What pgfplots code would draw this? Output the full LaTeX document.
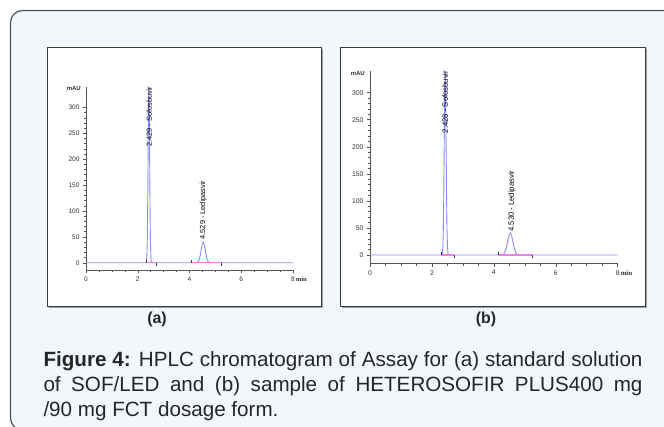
\documentclass[border=0pt]{standalone}
\usepackage{fontspec}
\setmainfont{Liberation Sans}
\setsansfont{Liberation Sans}
\newfontfamily\serif{Liberation Serif}
\usepackage{pgfplots}
\pgfplotsset{compat=1.18}
\definecolor{bgblue}{HTML}{F2F7FB}
\definecolor{framegray}{HTML}{505050}
\definecolor{panelborder}{HTML}{3A3A3A}
\definecolor{shadowgray}{HTML}{A0A0A0}
\definecolor{axisgray}{HTML}{555555}
\definecolor{labgray}{HTML}{333333}
\definecolor{tracecol}{HTML}{8C8CFF}
\definecolor{basecol}{HTML}{F07CF0}
\definecolor{captext}{HTML}{262626}

\pgfplotsset{chrom/.style={scale only axis,axis x line=bottom,axis y line=left,
axis line style={-,draw=axisgray,line width=.6bp},
xmin=0,xmax=8,xtick={0,2,4,6,8},minor x tick num=3,
ytick={0,50,...,300},minor y tick num=4,
tick align=outside,major tick length=3bp,minor tick length=1.8bp,
every tick/.style={draw=axisgray,line width=.5bp},
tick label style={text=labgray},
/pgf/number format/assume math mode=true,clip=false,
xticklabels={0,2,4,6,{8\rlap{\,\serif\bfseries min}}}},
signal/.style={tracecol,line width=.9bp,no marks},
baseline/.style={basecol,line width=1.1bp,no marks},
endmark/.style={panelborder,line width=.5bp,no marks}}

\begin{document}
\begin{tikzpicture}
\useasboundingbox (0,0) rectangle (664bp,-427bp);
\fill[white] (0,0) rectangle (664bp,-427bp);
\begin{scope}
\clip (0,0) rectangle (664bp,-427bp);
\draw[framegray,line width=1.2bp,fill=bgblue,rounded corners=12bp] (10.5bp,-10.5bp) rectangle (700bp,-430bp);
\end{scope}
% panels
\fill[shadowgray] (48.5bp,-48.5bp) rectangle (322.8bp,-307.8bp);
\draw[panelborder,fill=white,line width=.9bp] (47bp,-47bp) rectangle (321bp,-306bp);
\fill[shadowgray] (341.5bp,-48.5bp) rectangle (647.3bp,-307.8bp);
\draw[panelborder,fill=white,line width=.9bp] (340bp,-47bp) rectangle (645.5bp,-306bp);

% (a)
\begin{axis}[chrom,at={(86bp,-270bp)},anchor=south west,width=207bp,height=183.3bp,
ymin=-14,ymax=340,tick label style={font=\fontsize{6.6}{7}\selectfont}]
\addplot[signal] coordinates {(0,0) (2.2,0) (2.309,0.1) (2.324,0.74) (2.339,3.75) (2.354,14.8) (2.369,45.7) (2.384,109.7) (2.399,205.0) (2.414,298.3) (2.429,338) (2.444,298.3) (2.459,205.0) (2.474,109.7) (2.489,45.7) (2.504,14.8) (2.519,3.75) (2.534,0.74) (2.549,0.1) (2.6,0) (4.209,0) (4.249,0.09) (4.289,0.44) (4.329,1.76) (4.369,5.41) (4.409,12.99) (4.449,24.26) (4.489,35.3) (4.529,40) (4.569,35.3) (4.609,24.26) (4.649,12.99) (4.689,5.41) (4.729,1.76) (4.769,0.44) (4.809,0.09) (4.849,0) (8,0)};
\addplot[baseline] coordinates {(2.32,0) (2.70,0)};
\addplot[baseline] coordinates {(4.05,0) (5.24,0)};
\addplot[endmark] coordinates {(2.32,0) (2.32,6)};
\addplot[endmark] coordinates {(2.70,0) (2.70,-6)};
\addplot[endmark] coordinates {(4.05,0) (4.05,6)};
\addplot[endmark] coordinates {(5.24,0) (5.24,-6)};
\node[rotate=90,anchor=west,inner sep=0,font=\fontsize{7.4}{8}\selectfont] at (axis cs:2.446,224) {2.429 - Sofosbuvir};
\node[rotate=90,anchor=west,inner sep=0,font=\fontsize{7.4}{8}\selectfont] at (axis cs:4.53,45) {4.529 - Ledipasvir};
\node[anchor=east,inner sep=0,font=\bfseries\fontsize{6}{7}\selectfont,text=labgray] at (axis cs:0,336) [xshift=-5bp] {mAU};
\end{axis}

% (b)
\begin{axis}[chrom,at={(370bp,-263.7bp)},anchor=south west,width=247.7bp,height=192.7bp,
ymin=-16,ymax=340,tick label style={font=\fontsize{6.9}{7.5}\selectfont}]
\addplot[signal] coordinates {(0,0) (2.2,0) (2.308,0.1) (2.323,0.74) (2.338,3.75) (2.353,14.8) (2.368,45.7) (2.383,109.7) (2.398,205.0) (2.413,298.3) (2.428,338) (2.443,298.3) (2.458,205.0) (2.473,109.7) (2.488,45.7) (2.503,14.8) (2.518,3.75) (2.533,0.74) (2.548,0.1) (2.6,0) (4.19,0) (4.2325,0.09) (4.275,0.46) (4.3175,1.80) (4.36,5.55) (4.4025,13.31) (4.445,24.87) (4.4875,36.18) (4.53,41) (4.5725,36.18) (4.615,24.87) (4.6575,13.31) (4.70,5.55) (4.7425,1.80) (4.785,0.46) (4.8275,0.09) (4.87,0) (8,0)};
\addplot[baseline] coordinates {(2.29,0) (2.72,0)};
\addplot[baseline] coordinates {(4.15,0) (5.24,0)};
\addplot[endmark] coordinates {(2.29,0) (2.29,6)};
\addplot[endmark] coordinates {(2.72,0) (2.72,-6)};
\addplot[endmark] coordinates {(4.15,0) (4.15,6)};
\addplot[endmark] coordinates {(5.24,0) (5.24,-6)};
\node[rotate=90,anchor=west,inner sep=0,font=\fontsize{7.7}{8}\selectfont] at (axis cs:2.43,225) {2.428 - Sofosbuvir};
\node[rotate=90,anchor=west,inner sep=0,font=\fontsize{7.7}{8}\selectfont] at (axis cs:4.58,43) {4.530 - Ledipasvir};
\node[anchor=east,inner sep=0,font=\bfseries\fontsize{6}{7}\selectfont,text=labgray] at (axis cs:0,336) [xshift=-5bp] {mAU};
\end{axis}

% sub labels and caption
\node[anchor=base,inner sep=0,font=\bfseries\fontsize{16}{18}\selectfont,text=captext] at (157bp,-323bp) {(a)};
\node[anchor=base,inner sep=0,font=\bfseries\fontsize{16}{18}\selectfont,text=captext] at (486bp,-323bp) {(b)};
\begin{scope}[every node/.style={anchor=base west,inner sep=0,font=\fontsize{20.7}{25}\selectfont,text=captext}]
\node at (43.3bp,-366bp) {\makebox[599bp][s]{\textbf{Figure 4:} HPLC chromatogram of Assay for (a) standard solution}};
\node at (43.3bp,-391bp) {\makebox[599bp][s]{of SOF/LED and (b) sample of HETEROSOFIR PLUS400 mg}};
\node at (43.3bp,-416bp) {/90 mg FCT dosage form.};
\end{scope}
\end{tikzpicture}
\end{document}
